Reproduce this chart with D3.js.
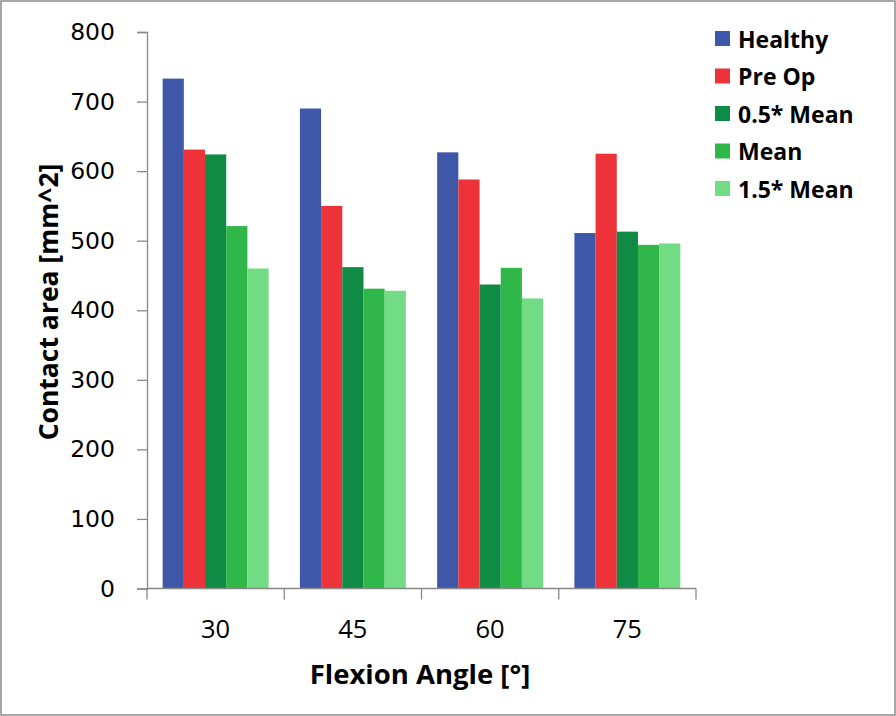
<!DOCTYPE html>
<html><head><meta charset="utf-8">
<script src="https://cdn.jsdelivr.net/npm/d3@7"></script>
<style>body{margin:0;background:#fff}</style>
</head><body>
<svg id="c" width="896" height="716"></svg>
<script>
const categories = ["30", "45", "60", "75"];
const seriesNames = ["Healthy", "Pre Op", "0.5* Mean", "Mean", "1.5* Mean"];
const healthy = [733, 690, 627, 511];
const preOp = [631, 550, 588, 625];
const halfMean = [624, 462, 437, 513];
const mean = [521, 431, 461, 494];
const oneHalfMean = [460, 428, 417, 496];
const yTicks = [0, 100, 200, 300, 400, 500, 600, 700, 800];
const colors = ["#3F57A9", "#EE3239", "#0F8B45", "#2FB74A", "#71DC83"];
const seriesValues = [healthy, preOp, halfMean, mean, oneHalfMean];

const svg = d3.select("#c");
svg.append("rect").attr("x", 1).attr("y", 1).attr("width", 894).attr("height", 714)
  .attr("fill", "#fff").attr("stroke", "#8c8c8c").attr("stroke-width", 1.5);

const L = 147, R = 696, T = 32, B = 588.5;
const y = d3.scaleLinear().domain([0, 800]).range([B, T]);
const x0 = d3.scaleBand().domain(categories).range([L, R]).paddingInner(0.228).paddingOuter(0.114);
const x1 = d3.scaleBand().domain(seriesNames).range([0, x0.bandwidth()]);

const data = categories.map((c, i) => ({cat: c, vals: seriesNames.map((s, j) => ({s, v: seriesValues[j][i], c: colors[j]}))}));

const g = svg.append("g");
g.selectAll("g.grp").data(data).join("g").attr("class", "grp")
  .attr("transform", d => `translate(${x0(d.cat)},0)`)
  .selectAll("rect").data(d => d.vals).join("rect")
  .attr("x", d => x1(d.s)).attr("width", x1.bandwidth())
  .attr("y", d => y(d.v)).attr("height", d => B - y(d.v))
  .attr("fill", d => d.c);

// y axis
const yAxis = d3.axisLeft(y).tickValues(yTicks).tickSize(10).tickPadding(22);
const ya = svg.append("g").attr("transform", `translate(${L},0)`).call(yAxis);
ya.select(".domain").attr("stroke", "#888").attr("stroke-width", 1.3);
ya.selectAll(".tick line").attr("stroke", "#888").attr("stroke-width", 1.3);
ya.selectAll(".tick text").attr("font-family", "DejaVu Sans").attr("font-size", 23.5).attr("fill", "#000");

// x axis with ticks at category boundaries
const xa = svg.append("g").attr("transform", `translate(0,${B})`);
xa.append("line").attr("x1", L).attr("x2", R).attr("stroke", "#888").attr("stroke-width", 1.3);
const bounds = d3.range(categories.length + 1).map(i => L + i * (R - L) / categories.length);
xa.selectAll("line.tk").data(bounds).join("line").attr("class", "tk")
  .attr("x1", d => d).attr("x2", d => d).attr("y1", 0).attr("y2", 11)
  .attr("stroke", "#888").attr("stroke-width", 1.3);
xa.selectAll("text").data(categories).join("text")
  .attr("x", d => x0(d) + x0.bandwidth() / 2).attr("y", 49)
  .attr("text-anchor", "middle").attr("font-family", "Open Sans").attr("font-size", 25.5)
  .attr("fill", "#000").text(d => d);

// axis titles
svg.append("text").attr("x", 420).attr("y", 684).attr("text-anchor", "middle")
  .attr("font-family", "Open Sans").attr("font-weight", "bold").attr("font-size", 27.5)
  .text("Flexion Angle [°]");
svg.append("text").attr("transform", "translate(58,302) rotate(-90)").attr("text-anchor", "middle")
  .attr("font-family", "Open Sans").attr("font-weight", "bold").attr("font-size", 26.5)
  .text("Contact area [mm^2]");

// legend
const lg = svg.append("g");
const rows = lg.selectAll("g").data(seriesNames).join("g")
  .attr("transform", (d, i) => `translate(715,${31 + i * 37.5})`);
rows.append("rect").attr("width", 15).attr("height", 15).attr("fill", (d, i) => colors[i]);
rows.append("text").attr("x", 23).attr("y", 16.5).attr("font-family", "Open Sans")
  .attr("font-weight", "bold").attr("font-size", 23).text(d => d);
</script>
</body></html>
